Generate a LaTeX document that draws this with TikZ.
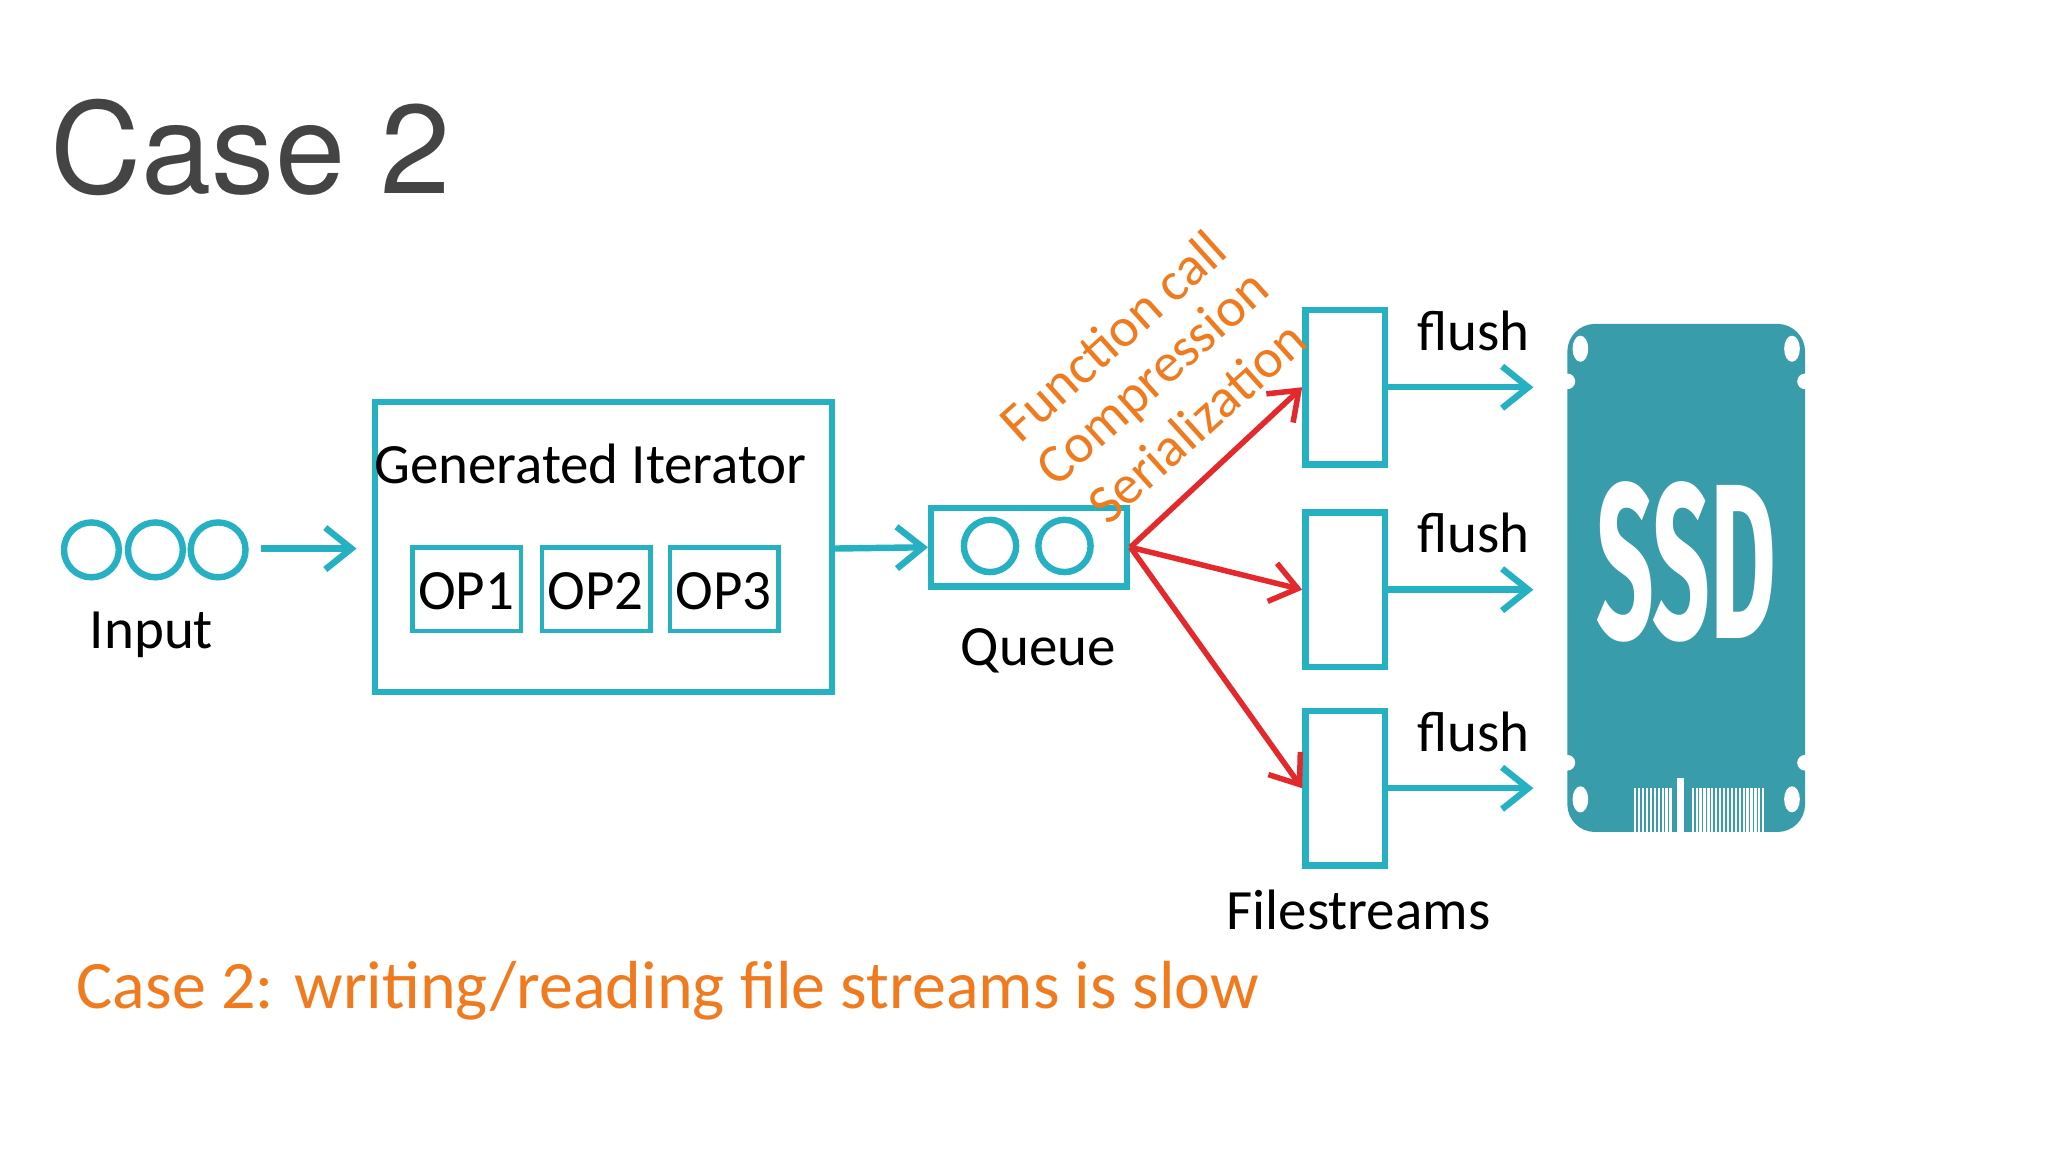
\documentclass[tikz,border=0pt]{standalone}
\usepackage{fontspec}
\setmainfont{Carlito}
\newfontfamily\titlefont{TeX Gyre Heros}
\newfontfamily\ssdfont{Fira Sans}
\usepackage{graphicx}
\usetikzlibrary{arrows.meta}
\definecolor{teal1}{HTML}{25B1C1}
\definecolor{ssdteal}{HTML}{389CAA}
\definecolor{orange1}{HTML}{F07A1E}
\definecolor{red1}{HTML}{E3292C}
\definecolor{title}{HTML}{444444}

\begin{document}
\begin{tikzpicture}[x=0.01cm, y=-0.01cm,
		box/.style = {draw = teal1, line width = 1.4pt},
		flow/.style = {draw = teal1, line width = 1.4pt, -{Straight Barb[length=2mm, width=3.2mm]}},
		spill/.style = {draw = red1, line width = 1.2pt, -{Straight Barb[length=2mm, width=3mm]}},
		lbl/.style = {font = \fontsize{12.4}{14}\selectfont},
		tag/.style = {font = \fontsize{12}{14}\selectfont, text = orange1, rotate = 42}]
		\useasboundingbox (0,0) rectangle (1568,882);
		\node[anchor = base west, text = title, font = \titlefont\fontsize{27.5}{30}\selectfont, inner sep = 0] (head) at (38,148) {Case 2};
		% input
		\foreach \i/\x in {1/70, 2/119, 3/167}{
			\draw[box] (\x, 421) circle (21);
			\coordinate (in\i) at (\x, 421);
			}
		\node[lbl] (inlbl) at (116,486) {Input};
		\coordinate (inend) at (200,420);
		% generated iterator
		\draw[box] (287,308) rectangle (637,530);
		\coordinate (genw) at (273,420);
		\coordinate (gene) at (637,420);
		\node[lbl] (gen) at (452,355) {Generated Iterator};
		\foreach \i/\x in {1/316, 2/415, 3/513}{
			\draw[draw = teal1, line width = 1pt] (\x, 419) rectangle +(83, 64);
			\node[lbl] (op\i) at (\x + 41, 453) {OP\i};
			}
		\draw[flow] (inend) -- (genw);
		% queue
		\node[box, minimum width = 1.5cm, minimum height = 0.6cm, inner sep = 0] (queue) at (788,419) {};
		\draw[box] (758,418) circle (20);
		\draw[box] (815,418) circle (20);
		\node[lbl] (qlbl) at (795,498) {Queue};
		\draw[flow] (gene) -- (queue.west);
		% filestreams
		\coordinate (ssdx) at (1174,0);
		\foreach \i/\y in {1/235, 2/390, 3/542}{
			\node[box, anchor = north west, minimum width = 0.61cm, minimum height = 1.18cm, inner sep = 0] (fs\i) at (997,\y) {};
			\draw[flow] (fs\i.east) -- (fs\i.east -| ssdx);
			\node[lbl, anchor = south] (fl\i) at (1128, \y + 46) {flush};
			\draw[spill] (queue.east) -- (fs\i.west);
			}
		\node[lbl] (fslbl) at (1040,697) {Filestreams};
		\node[tag] (t1) at (852,257) {Function call};
		\node[tag] (t2) at (884,291) {Compression};
		\node[tag] (t3) at (916,323) {Serialization};
		% SSD
		\fill[ssdteal, rounded corners = 6] (1200,248) rectangle (1382,637);
		\foreach \x/\h in {1200/1210, 1382/1372}{
			\fill[white] (\x,292) circle (6);
			\fill[white] (\x,584) circle (6);
			\fill[white] (\h,267) ellipse (6 and 10);
			\fill[white] (\h,612) ellipse (6 and 10);
			}
		\foreach \x in {1252,1255,...,1280, 1296,1299,...,1350}{
			\draw[white, line width = 0.5pt] (\x,637) -- (\x,603);
			}
		\fill[white] (1284,596) rectangle (1289,637);
		\node[text = white, inner sep = 0] (ssd) at (1291,430) {\resizebox{1.38cm}{1.2cm}{\ssdfont\bfseries SSD}};
		\node[anchor = base west, text = orange1, font = \fontsize{14.8}{16}\selectfont, inner sep = 0] (note) at (58,772) {Case 2: writing/reading file streams is slow};
	\end{tikzpicture}
\end{document}
